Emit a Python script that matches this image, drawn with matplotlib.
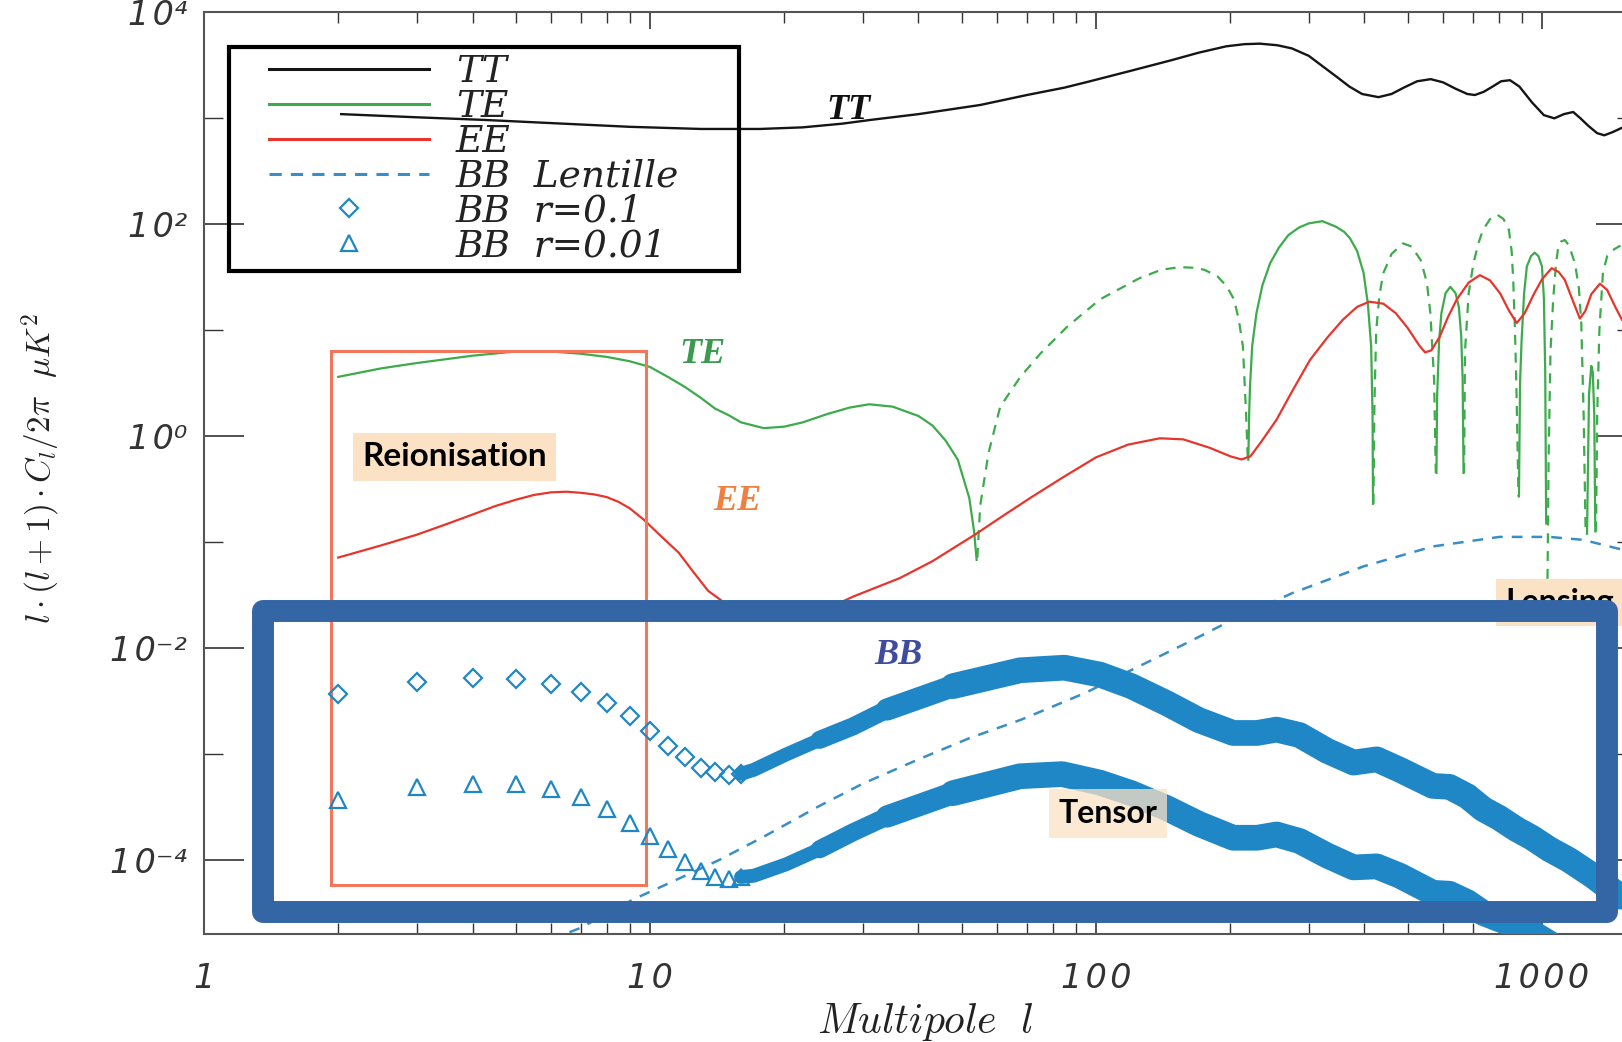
import matplotlib
matplotlib.use('Agg')
import matplotlib.pyplot as plt
from matplotlib.patches import Rectangle
from matplotlib.lines import Line2D
from matplotlib.ticker import NullFormatter

plt.rcParams['mathtext.fontset'] = 'cm'

# --- spectre TT (uK^2) ---
tt_l = [2.03, 3, 4.26, 6, 9, 13, 17.65, 22, 27, 31.2, 40, 55, 70, 85, 97, 120, 148, 170, 196,
        215, 233, 255, 275, 300, 325, 347, 370, 395, 430, 460, 490, 525, 563, 600, 640, 680,
        707, 740, 775, 810, 848, 890, 950, 1010, 1066, 1120, 1175, 1220, 1270, 1330, 1380,
        1440, 1510]
tt_val = [1096, 1023, 966, 902, 832, 794, 794, 822, 891, 966, 1096, 1337, 1660, 1950, 2239,
          2818, 3548, 4169, 4786, 5012, 5070, 4898, 4571, 3890, 3020, 2455, 1995, 1698, 1585,
          1698, 1950, 2239, 2344, 2188, 1905, 1698, 1660, 1778, 1995, 2239, 2291, 1995, 1413,
          1072, 1000, 1096, 1148, 1000, 851, 724, 692, 741, 813]

# --- spectre TE (valeurs signees : trait plein > 0, tirets < 0) ---
te_l = [2, 2.5, 3, 4, 5, 6, 7, 8, 9, 10, 11, 12, 13, 14, 15, 16, 18, 20, 22, 25, 28, 31, 35,
        40, 43, 46, 49, 52, 53.3, 54,
        54.2, 55, 57.4, 61, 67.6, 75, 86, 102, 125, 140, 154, 165, 175, 187, 196, 204, 209,
        213.5, 217, 219,
        219.6, 220.5, 221.5, 224, 229, 236, 245.6, 257, 270, 285, 300, 322, 345, 360, 371, 385,
        398, 407, 414, 417, 418,
        419, 421, 425, 432, 441, 460, 488, 510, 535, 552, 562, 573, 578,
        580, 582, 588, 595, 608, 623, 640, 651, 659, 664, 667,
        669, 672, 685, 702, 720, 738, 765, 794, 820, 843, 855, 862, 870, 877, 886,
        888, 893, 900, 912, 925, 945, 963, 982, 1000, 1010, 1017, 1022,
        1029, 1035, 1045, 1060, 1075, 1088, 1105, 1125, 1150, 1186, 1210, 1225, 1240, 1253,
        1262, 1275, 1290, 1300, 1310, 1317,
        1322, 1330, 1345, 1370, 1400, 1441, 1500]
te_val = [3.63, 4.37, 4.9, 5.75, 6.3, 6.3, 6.0, 5.6, 5.1, 4.5, 3.6, 2.9, 2.3, 1.82, 1.58,
          1.35, 1.19, 1.23, 1.35, 1.62, 1.86, 2.0, 1.9, 1.55, 1.26, 0.91, 0.60, 0.26, 0.126,
          0.068,
          -0.071, -0.22, -0.69, -1.9, -3.6, -6.0, -10.7, -19.5, -30.9, -37.2, -39.4, -38.9,
          -37.2, -32.4, -26.3, -19.5, -12.6, -7.1, -1.66, -0.60,
          0.60, 1.58, 2.95, 7.1, 14.5, 26.3, 42.7, 60, 79, 93, 102, 107, 95, 85, 74, 56, 35,
          17.8, 7.1, 1.58, 0.23,
          -0.23, -2.0, -10, -21.4, -34.7, -52.5, -66, -61.7, -45.7, -28.2, -14.5, -3.4, -0.45,
          0.45, 2.37, 7.9, 14.5, 22.4, 25.7, 22.4, 16.6, 8.9, 3.4, 0.45,
          -0.45, -6.3, -22.4, -42.7, -66, -89, -112, -123, -112, -89, -56, -30, -10, -2.5,
          -0.27,
          0.27, 3.16, 7.9, 22.4, 40, 50, 54, 50, 40, 20, 4.0, 0.15,
          -0.045, -0.63, -6.3, -20, -41.7, -61.7, -69, -71, -63, -42.7, -25, -11.7, -1.6,
          -0.12,
          0.12, 2.5, 4.6, 4.0, 1.6, 0.126,
          -0.126, -1.6, -10, -35, -50, -57, -63]

# --- spectre EE ---
ee_l = [2, 2.5, 3, 3.5, 4, 4.5, 5, 5.5, 6, 6.5, 7, 7.5, 8, 8.5, 9, 9.7, 10.5, 11.6, 12.5, 13.5,
        15, 17, 20, 24, 28.7, 36.3, 43, 53.5, 62, 72, 85, 100, 118, 139, 157, 180, 200, 212,
        222, 235, 254, 275, 302, 330, 358, 385, 410, 441, 470, 500, 530, 547, 565, 590, 615,
        644, 685, 726, 765, 805, 845, 878, 915, 956, 1000, 1051, 1090, 1125, 1170, 1216, 1250,
        1290, 1349, 1400, 1460, 1511]
ee_val = [0.0715, 0.0933, 0.1175, 0.148, 0.182, 0.219, 0.251, 0.279, 0.295, 0.299, 0.292,
          0.282, 0.266, 0.240, 0.209, 0.162, 0.1175, 0.0794, 0.0525, 0.0347, 0.0251, 0.0209,
          0.0191, 0.0219, 0.0309, 0.0457, 0.0661, 0.1175, 0.178, 0.269, 0.417, 0.631, 0.832,
          0.955, 0.933, 0.776, 0.646, 0.603, 0.646, 0.891, 1.43, 2.63, 5.25, 8.51, 12.6, 16.6,
          18.6, 17.8, 14.5, 10.5, 7.24, 6.17, 6.46, 8.71, 13.2, 19.5, 28.2, 33.1, 29.5, 22.4,
          15.1, 11.7, 14.5, 21.4, 30.2, 38.5, 35.5, 29.9, 19.5, 12.9, 15.1, 21.9, 27.5, 24.0,
          16.6, 12.6]

# --- BB lentille ---
bbl_l = [6, 7, 9.2, 11, 14.3, 18, 24, 30, 40, 52, 68, 95, 121, 160, 203, 276, 398, 569, 803,
         1038, 1238, 1511]
bbl_val = [1.78e-5, 2.29e-5, 4.27e-5, 6.0e-5, 1.0e-4, 1.66e-4, 3.24e-4, 5.25e-4, 8.9e-4,
           1.41e-3, 2.11e-3, 3.8e-3, 6.3e-3, 1.12e-2, 1.86e-2, 3.31e-2, 5.9e-2, 9.1e-2, 0.112,
           0.112, 0.105, 0.085]

# --- BB tenseur r=0.1 : points bas l puis bande ---
r1_pts_l = [2, 3, 4, 5, 6, 7, 8, 9, 10, 11, 12, 13, 14, 15, 16]
r1_pts_val = [3.72e-3, 4.79e-3, 5.25e-3, 5.13e-3, 4.57e-3, 3.85e-3, 3.05e-3, 2.29e-3, 1.66e-3,
              1.20e-3, 9.3e-4, 7.4e-4, 6.8e-4, 6.3e-4, 6.5e-4]
r1_band_l = [16, 17.1, 20.2, 24, 28.5, 34, 47.8, 67.6, 85, 102, 120, 144, 170, 203, 230, 254,
             286, 330, 378, 426, 480, 569, 620, 680, 738, 800, 877, 950, 1040, 1150, 1300, 1500]
r1_band_val = [6.5e-4, 7.1e-4, 9.9e-4, 1.36e-3, 1.82e-3, 2.63e-3, 4.37e-3, 6.17e-3, 6.53e-3,
               5.62e-3, 4.37e-3, 3.02e-3, 2.09e-3, 1.58e-3, 1.58e-3, 1.70e-3, 1.51e-3, 1.07e-3,
               8.3e-4, 8.9e-4, 7.1e-4, 5.0e-4, 4.9e-4, 4.0e-4, 3.02e-4, 2.51e-4, 1.95e-4,
               1.62e-4, 1.26e-4, 1.0e-4, 7.1e-5, 4.5e-5]

# --- BB tenseur r=0.01 ---
r2_pts_l = [2, 3, 4, 5, 6, 7, 8, 9, 10, 11, 12, 13, 14, 15, 16]
r2_pts_val = [3.72e-4, 4.9e-4, 5.25e-4, 5.25e-4, 4.68e-4, 3.89e-4, 3.02e-4, 2.24e-4, 1.70e-4,
              1.26e-4, 9.5e-5, 7.9e-5, 6.9e-5, 6.6e-5, 6.9e-5]
r2_band_l = [16, 17.1, 20.2, 24, 28.5, 34, 47.8, 67.6, 84, 102, 120, 144, 170, 203, 230, 254,
             286, 330, 378, 426, 480, 569, 620, 680, 738, 803, 880, 960, 1100]
r2_band_val = [6.9e-5, 7.1e-5, 9.1e-5, 1.26e-4, 1.82e-4, 2.57e-4, 4.27e-4, 6.17e-4, 6.46e-4,
               5.37e-4, 4.27e-4, 3.09e-4, 2.19e-4, 1.62e-4, 1.62e-4, 1.74e-4, 1.51e-4, 1.10e-4,
               8.5e-5, 8.7e-5, 7.1e-5, 4.9e-5, 4.8e-5, 4.0e-5, 3.16e-5, 2.75e-5, 2.40e-5,
               2.0e-5, 1.41e-5]

c_tt = '#151515'
c_te = '#3dab4c'
c_ee = '#e8352c'
c_bb = '#1f87c6'
c_lens = '#3a8ec6'

fig = plt.figure(figsize=(16.22, 10.42), dpi=100)
ax = fig.add_axes([204 / 1622, 1 - 934 / 1042, 1432 / 1622, (934 - 12.4) / 1042])
ax.set_xscale('log')
ax.set_yscale('log')

ax.plot(tt_l, tt_val, color=c_tt, lw=1.7, zorder=3)

# TE : on coupe aux changements de signe
start = 0
for i in range(1, len(te_val) + 1):
    if i == len(te_val) or (te_val[i] > 0) != (te_val[start] > 0):
        seg_l = te_l[start:i]
        seg_v = [abs(v) for v in te_val[start:i]]
        if te_val[start] > 0:
            ax.plot(seg_l, seg_v, color=c_te, lw=1.6, zorder=3)
        else:
            ax.plot(seg_l, seg_v, color=c_te, lw=1.6, ls=(0, (4.5, 3.5)), zorder=3)
        start = i

ax.plot(ee_l, ee_val, color=c_ee, lw=1.6, zorder=3)
ax.plot(bbl_l, bbl_val, color=c_lens, lw=1.8, ls=(0, (4.3, 3.6)), zorder=3)

# bandes tenseur : elles s'epaississent a mesure que les symboles se chevauchent
for band_l, band_v in [(r1_band_l, r1_band_val), (r2_band_l, r2_band_val)]:
    for i0, i1, w in [(0, 5, 10), (3, 7, 13), (5, 8, 16), (6, None, 18.5)]:
        ax.plot(band_l[i0:i1], band_v[i0:i1], color=c_bb, lw=w,
                solid_capstyle='round', solid_joinstyle='round', zorder=4)
ax.plot(r1_pts_l, r1_pts_val, ls='none', marker='D', ms=9, mfc='none', mec=c_bb, mew=1.6, zorder=4)
ax.plot(r2_pts_l, r2_pts_val, ls='none', marker='^', ms=12, mfc='none', mec=c_bb, mew=1.6, zorder=4)

ax.set_xlim(1, 1625)
ax.set_ylim(2.0e-5, 1e4)

# axes
hs = '\u200a'
ax.set_xticks([1, 10, 100, 1000])
ax.set_xticklabels(['1', hs.join('10'), hs.join('100'), hs.join('1000')],
                   fontstyle='italic', color='#333')
ax.set_yticks([1e-4, 1e-2, 1, 1e2, 1e4])
ax.set_yticklabels([hs.join('10') + s for s in ['⁻⁴', '⁻²', '⁰', '²', '⁴']],
                   fontstyle='italic', color='#333')
ax.set_yticks([1e-3, 1e-1, 1e1, 1e3], minor=True)
ax.xaxis.set_minor_formatter(NullFormatter())
ax.yaxis.set_minor_formatter(NullFormatter())
ax.tick_params(which='both', direction='in', top=True, right=True, color='#333')
ax.tick_params(axis='x', which='major', length=12, width=1.2, pad=20, labelsize=24)
ax.tick_params(axis='x', which='minor', length=8, width=1.0)
ax.tick_params(axis='y', which='major', length=29, width=1.2, pad=12, labelsize=24)
ax.tick_params(axis='y', which='minor', length=14, width=1.0)
for s in ax.spines.values():
    s.set_color('#555')
    s.set_linewidth(1.5)

fig.text(41 / 1622, 1 - 468 / 1042, r'$l\cdot(l+1)\cdot C_l/2\pi\ \ \mu K^2$',
         rotation=90, ha='center', va='center', fontsize=24, color='#222')
fig.text(925 / 1622, 1 - 1022 / 1042, r'$Multipole\ \ l$', ha='center', va='center',
         fontsize=30, color='#222')

# legende (cadre dessine a part)
handles = [Line2D([], [], color=c_tt, lw=2.2),
           Line2D([], [], color=c_te, lw=2.2),
           Line2D([], [], color=c_ee, lw=2.2),
           Line2D([], [], color=c_lens, lw=2.2, ls=(0, (4.0, 3.0))),
           Line2D([], [], ls='none', marker='D', ms=9, mfc='none', mec=c_bb, mew=1.6),
           Line2D([], [], ls='none', marker='^', ms=12, mfc='none', mec=c_bb, mew=1.6)]
labels = ['TT', 'TE', 'EE', 'BB  Lentille', 'BB  r=0.1', 'BB  r=0.01']
leg = ax.legend(handles, labels, loc='upper left', bbox_to_anchor=(269 / 1622, 1 - 54 / 1042),
                bbox_transform=fig.transFigure, frameon=False,
                prop=dict(family='DejaVu Serif', style='italic', size=27),
                handlelength=4.27, handletextpad=0.71, labelspacing=-0.03, borderpad=0,
                numpoints=1, borderaxespad=0)
for t in leg.get_texts():
    t.set_color('#222')
leg.set_zorder(6)
fig.add_artist(Rectangle((229 / 1622, 1 - 270.7 / 1042), 510 / 1622, 224 / 1042,
                         transform=fig.transFigure, fill=False, ec='black', lw=3))

# etiquettes
ax.text(27.8, 1175, 'TT', fontsize=26, fontweight='bold', fontstyle='italic',
        family='Liberation Serif', color='#111', ha='center', va='center', zorder=5)
ax.text(13.1, 5.9, 'TE', fontsize=26, fontweight='bold', fontstyle='italic',
        family='Liberation Serif', color='#3a9a4f', ha='center', va='center', zorder=5)
ax.text(15.7, 0.24, 'EE', fontsize=26, fontweight='bold', fontstyle='italic',
        family='Liberation Serif', color='#f08040', ha='center', va='center', zorder=5)
ax.text(36.1, 8.5e-3, 'BB', fontsize=26, fontweight='bold', fontstyle='italic',
        family='Liberation Serif', color='#3f4b9f', ha='center', va='center', zorder=5)

lab_box = dict(boxstyle='square,pad=0.28', fc='#fbe2c5', ec='none')
ax.text(3.65, 0.64, 'Reionisation', fontsize=24, family='Lato', weight='bold',
        ha='center', va='center', bbox=lab_box, zorder=5)
ax.text(106.4, 2.74e-4, 'Tensor', fontsize=23, family='Lato', weight='bold',
        ha='center', va='center', zorder=7,
        bbox=dict(boxstyle='square,pad=0.3', fc='#fbe2c5', ec='none', alpha=0.75))
ax.text(826, 0.027, 'Lensing', fontsize=23, family='Lato', weight='bold',
        ha='left', va='center', bbox=lab_box, zorder=5)

ax.add_patch(Rectangle((1.93, 5.8e-5), 9.8 - 1.93, 6.3 - 5.8e-5, fill=False,
                       ec='#f2775a', lw=2.2, zorder=3))

fig.add_artist(Rectangle((263 / 1622, 1 - 912 / 1042), (1607 - 263) / 1622, (912 - 611) / 1042,
                         transform=fig.transFigure, fill=False, ec='#3465a5', lw=15.8,
                         joinstyle='round', zorder=10))

fig.savefig('out.png', dpi=100)
